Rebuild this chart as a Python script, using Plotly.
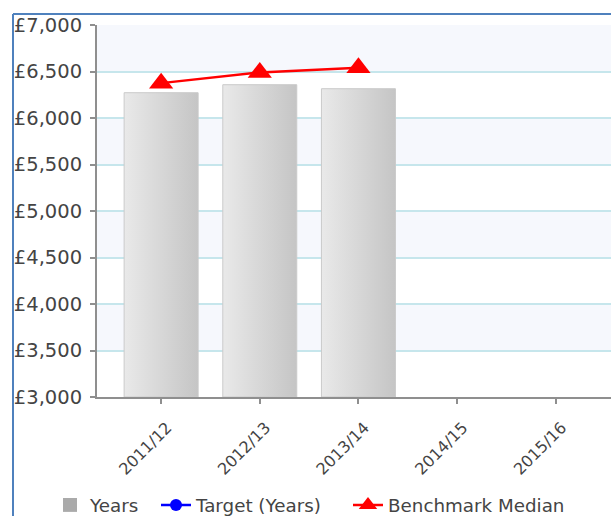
import plotly.graph_objects as go

# Financial years on the category axis
years = ["2011/12", "2012/13", "2013/14", "2014/15", "2015/16"]

# Spend per year (only the first three years reported)
years_values = [6272, 6358, 6315]

# Target series has no values yet
target_values = []

# Benchmark median per year
benchmark_median = [6375, 6490, 6540]

# Value axis ticks
y_ticks = [3000, 3500, 4000, 4500, 5000, 5500, 6000, 6500, 7000]

FONT = "DejaVu Sans"
TEXT = "#444444"
AXIS = "#8f8f8f"
GRID = "#c6e6ec"
BAND = "#f6f8fd"
BAR_W = 0.75
Y_MIN, Y_MAX = y_ticks[0], y_ticks[-1]

# Plot-area geometry in pixels
PLOT_L, PLOT_T, PLOT_W, PLOT_H = 97, 25, 514, 372
FIG_W, FIG_H = 611, 516


def px_to_paper_x(px):
    return (px - PLOT_L) / PLOT_W


def px_to_paper_y(py):
    return (PLOT_T + PLOT_H - py) / PLOT_H


fig = go.Figure()

# Bars drawn as filled shapes so they can carry a left-to-right shading
for i, v in enumerate(years_values):
    fig.add_trace(go.Scatter(
        x=[i - BAR_W / 2, i - BAR_W / 2, i + BAR_W / 2, i + BAR_W / 2, i - BAR_W / 2],
        y=[Y_MIN, v, v, Y_MIN, Y_MIN],
        mode="lines",
        fill="toself",
        fillgradient=dict(type="horizontal",
                          colorscale=[[0, "#e9e9e9"], [1, "#c5c5c5"]]),
        line=dict(color="#cacaca", width=1),
        showlegend=False,
        hoverinfo="skip",
    ))

# Legend entry for the bar series
fig.add_trace(go.Scatter(
    x=[None], y=[None], name="Years", mode="markers",
    marker=dict(symbol="square", size=14, color="#aaaaaa"),
    legend="legend",
))

# Target series (empty)
fig.add_trace(go.Scatter(
    x=list(range(len(target_values))) or [None],
    y=target_values or [None],
    name="Target (Years)", mode="lines+markers",
    line=dict(color="#0000ff", width=2.5),
    marker=dict(symbol="circle", size=12, color="#0000ff"),
    legend="legend2",
))

# Benchmark median line
fig.add_trace(go.Scatter(
    x=list(range(len(benchmark_median))),
    y=benchmark_median,
    name="Benchmark Median", mode="lines+markers",
    line=dict(color="#ff0000", width=2.5),
    marker=dict(symbol="triangle-up", size=21, color="#ff0000"),
    legend="legend3",
))

# Alternating horizontal bands between gridlines
shapes = []
for k in range(len(y_ticks) - 1, 0, -2):
    shapes.append(dict(
        type="rect", xref="x domain", yref="y",
        x0=0, x1=1, y0=y_ticks[k - 1], y1=y_ticks[k],
        fillcolor=BAND, line=dict(width=0), layer="below",
    ))

# Blue outer frame along the top and left
frame_x = px_to_paper_x(13)
frame_y = px_to_paper_y(14)
shapes.append(dict(type="line", xref="paper", yref="paper",
                   x0=frame_x, x1=frame_x, y0=-1, y1=frame_y,
                   line=dict(color="#4f81bd", width=2)))
shapes.append(dict(type="line", xref="paper", yref="paper",
                   x0=frame_x, x1=1.2, y0=frame_y, y1=frame_y,
                   line=dict(color="#4f81bd", width=2)))

legend_font = dict(family=FONT, size=18.3, color=TEXT)
legend_y = px_to_paper_y(505)


def legend_at(text_left_px):
    return dict(
        orientation="h", x=px_to_paper_x(text_left_px - 40), xanchor="left",
        y=legend_y, yanchor="middle",
        font=legend_font, bgcolor="rgba(0,0,0,0)", itemclick=False,
    )


fig.update_layout(
    width=FIG_W, height=FIG_H,
    margin=dict(l=PLOT_L, r=FIG_W - PLOT_L - PLOT_W, t=PLOT_T,
                b=FIG_H - PLOT_T - PLOT_H, pad=0, autoexpand=False),
    paper_bgcolor="white",
    plot_bgcolor="white",
    font=dict(family=FONT, size=18, color=TEXT),
    shapes=shapes,
    showlegend=True,
    legend=legend_at(90),
    legend2=legend_at(196),
    legend3=legend_at(388),
    hovermode=False,
)

fig.update_xaxes(
    range=[-0.65, 4.56],
    tickmode="array",
    tickvals=list(range(len(years))),
    ticktext=years,
    tickangle=-45,
    tickfont=dict(family=FONT, size=16, color=TEXT),
    showgrid=False, zeroline=False,
    showline=True, linecolor=AXIS, linewidth=2,
    ticks="outside", ticklen=5, tickcolor=AXIS, tickwidth=1.5,
    ticklabelshift=6, ticklabelstandoff=8,
    automargin=False,
)

fig.update_yaxes(
    range=[Y_MIN, Y_MAX],
    tickmode="array",
    tickvals=y_ticks,
    ticktext=[f"£{v:,}" for v in y_ticks],
    tickfont=dict(family=FONT, size=19.5, color=TEXT),
    showgrid=True, gridcolor=GRID, gridwidth=2,
    zeroline=False,
    showline=True, linecolor=AXIS, linewidth=2,
    ticks="outside", ticklen=5, tickcolor=AXIS, tickwidth=1.5,
    ticklabelstandoff=4,
    automargin=False,
)

fig.write_html("out.html")
